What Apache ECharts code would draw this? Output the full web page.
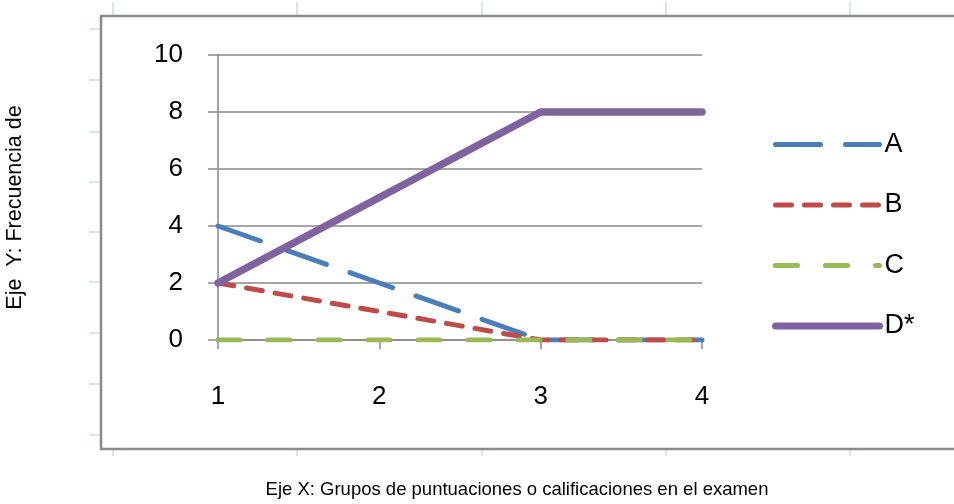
<!DOCTYPE html>
<html>
<head>
<meta charset="utf-8">
<script src="https://cdn.jsdelivr.net/npm/echarts@6/dist/echarts.min.js"></script>
<style>
html,body{margin:0;padding:0;background:#fff;}
#c{width:954px;height:504px;}
</style>
</head>
<body>
<div id="c"></div>
<script>
const categories = ['1', '2', '3', '4'];
const seriesNames = ['A', 'B', 'C', 'D*'];
const valuesA = [4, 2, 0, 0];
const valuesB = [2, 1, 0, 0];
const valuesC = [0, 0, 0, 0];
const valuesD = [2, 5, 8, 8];
const yTicks = { min: 0, max: 10, interval: 2 };
const xTitle = 'Eje X: Grupos de puntuaciones o calificaciones en el examen';
const yTitle = 'Eje  Y: Frecuencia de';

const FONT = 'Liberation Sans';
const axisGray = '#898989';

const chart = echarts.init(document.getElementById('c'), null, { renderer: 'canvas' });

// decorative spreadsheet cell marks outside the chart frame
const deco = [];
[113, 297, 482, 666, 850].forEach(x => {
  deco.push({ type: 'line', shape: { x1: x, y1: 2, x2: x, y2: 15 }, style: { stroke: '#d3dbea', lineWidth: 1.5 }, silent: true });
  deco.push({ type: 'line', shape: { x1: x, y1: 450, x2: x, y2: 456 }, style: { stroke: '#d3dbea', lineWidth: 1.5 }, silent: true });
});
[29, 80, 132, 182, 232, 282, 333, 384, 435].forEach(y => {
  deco.push({ type: 'line', shape: { x1: 89, y1: y, x2: 100, y2: y }, style: { stroke: '#d3dbea', lineWidth: 1.5 }, silent: true });
});
deco.push({ type: 'rect', shape: { x: 101, y: 16, width: 900, height: 433 }, style: { fill: 'none', stroke: '#8a8a8a', lineWidth: 2.5 }, silent: true, z: 0 });

const lineBase = (name, data, color, width, dash) => ({
  name, type: 'line', data, symbol: 'none', showSymbol: false, smooth: false,
  lineStyle: { color, width, type: dash, cap: 'round', join: 'round' },
  itemStyle: { color },
  emphasis: { disabled: true },
  animation: false
});

chart.setOption({
  animation: false,
  backgroundColor: '#fff',
  textStyle: { fontFamily: FONT },
  graphic: deco,
  grid: { left: 218, right: 252, top: 55, bottom: 164, containLabel: false, outerBoundsMode: 'none' },
  legend: {
    orient: 'vertical', left: 772, top: 131,
    itemWidth: 104, itemHeight: 14, itemGap: 33.5,
    padding: 0,
    textStyle: { fontSize: 27, color: '#000', fontFamily: FONT, padding: [0, 0, 0, 0] },
    itemStyle: { opacity: 0 },
    lineStyle: { width: 5, type: 'inherit', cap: 'round' },
    data: [
      { name: 'A' }, { name: 'B' }, { name: 'C' },
      { name: 'D*', lineStyle: { width: 7, cap: 'round' } }
    ],
    selectedMode: false
  },
  xAxis: {
    type: 'category', data: categories, boundaryGap: false,
    name: xTitle, nameLocation: 'middle', nameGap: 140,
    nameTextStyle: { fontSize: 18.5, color: '#000', fontFamily: FONT, padding: [0, 0, 0, 114] },
    axisLine: { show: true, lineStyle: { color: axisGray, width: 1.5 } },
    axisTick: { show: true, alignWithLabel: true, length: 9, lineStyle: { color: axisGray, width: 1.5 } },
    axisLabel: { fontSize: 26, color: '#000', margin: 44, fontFamily: FONT },
    splitLine: { show: false }
  },
  yAxis: {
    type: 'value', min: yTicks.min, max: yTicks.max, interval: yTicks.interval,
    name: yTitle, nameLocation: 'middle', nameGap: 192, nameRotate: 90,
    nameTextStyle: { fontSize: 21.5, color: '#000', fontFamily: FONT, padding: [0, 20, 0, 0] },
    axisLine: { show: true, lineStyle: { color: axisGray, width: 1.5 } },
    axisTick: { show: true, length: 10, lineStyle: { color: axisGray, width: 1.5 } },
    axisLabel: { fontSize: 26, color: '#000', margin: 35, fontFamily: FONT },
    splitLine: { show: true, lineStyle: { color: axisGray, width: 1.5 } }
  },
  series: [
    lineBase(seriesNames[0], valuesA, '#4a7ebb', 5, [45, 25]),
    lineBase(seriesNames[1], valuesB, '#be4b48', 5, [16, 13]),
    lineBase(seriesNames[2], valuesC, '#98b954', 5, [22, 28]),
    lineBase(seriesNames[3], valuesD, '#7f63a1', 7.5, 'solid')
  ]
});
</script>
</body>
</html>
